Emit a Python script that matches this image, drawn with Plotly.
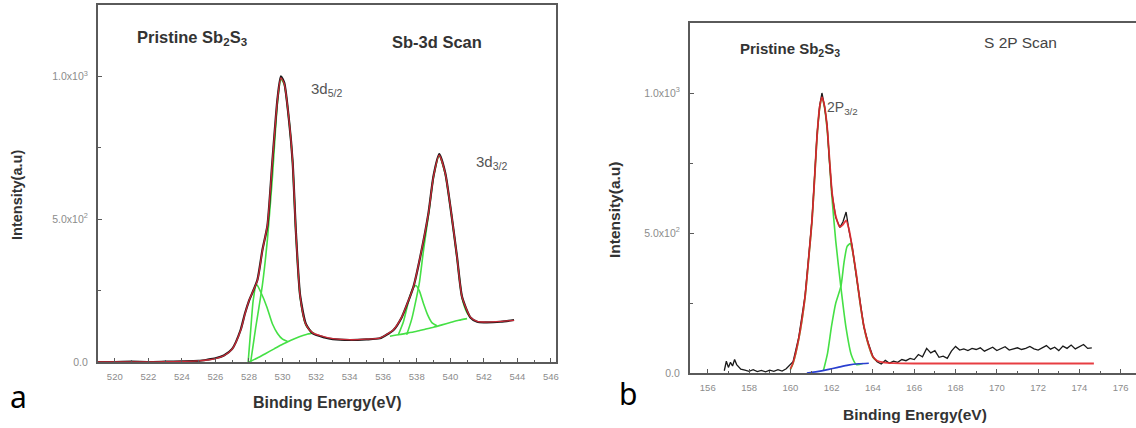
import plotly.graph_objects as go

# ---------------- Panel a : Sb-3d scan ----------------
a_x = [519.0, 520.0, 521.0, 522.0, 523.0, 524.0, 525.0, 525.5, 526.0, 526.5, 527.0, 527.5, 527.76,
       528.0, 528.5, 528.8, 529.1, 529.4, 529.7, 529.9, 530.1, 530.4, 530.6, 530.8, 531.05, 531.4,
       531.8, 532.5, 533.0, 534.0, 535.0, 535.8, 536.3, 536.6, 537.1, 537.5, 537.8, 538.2, 538.7,
       539.0, 539.34, 539.7, 540.06, 540.4, 540.7, 541.2, 541.6, 542.0, 543.0, 543.8]
a_data = [0, 0, 1, 0, 1, 2, 4, 8, 13, 23, 46, 112, 170,
          214, 287, 392, 478, 708, 922, 1000, 978, 838, 702, 452, 232, 132,
          100, 86, 80, 77, 79, 83, 99, 111, 156, 214, 263, 366, 522,
          652, 728, 662, 520, 368, 228, 156, 141, 139, 141, 147]
a_fit = [0, 0, 0, 0, 1, 2, 4, 7, 12, 22, 45, 110, 168,
         215, 285, 390, 480, 706, 920, 995, 975, 840, 700, 450, 230, 130,
         102, 88, 82, 78, 80, 84, 100, 112, 157, 215, 262, 367, 521,
         650, 724, 660, 521, 367, 227, 157, 142, 140, 142, 146]

a_bg1_x = [528.0, 528.5, 529.0, 529.5, 530.0, 530.5, 531.0, 531.5, 531.9]
a_bg1_y = [0, 14, 30, 46, 62, 76, 88, 98, 102]
a_sh1_x = [527.95, 528.1, 528.25, 528.45, 528.7, 529.07, 529.4, 529.7, 530.0, 530.3]
a_sh1_y = [0, 110, 215, 272, 245, 192, 133, 100, 80, 72]
a_pk1_x = [528.1, 528.4, 528.8, 529.1, 529.4, 529.7, 529.9, 530.1, 530.4, 530.6, 530.8, 531.05, 531.4, 531.8]
a_pk1_y = [0, 120, 270, 430, 650, 910, 990, 972, 838, 698, 448, 228, 128, 101]

a_bg2_x = [536.4, 537.0, 537.5, 538.0, 538.5, 539.0, 539.5, 540.0, 540.5, 541.0]
a_bg2_y = [90, 96, 102, 108, 115, 122, 130, 138, 146, 152]
a_sh2_x = [536.9, 537.2, 537.5, 537.75, 537.95, 538.15, 538.4, 538.65, 538.9, 539.2]
a_sh2_y = [95, 140, 210, 255, 268, 250, 205, 165, 138, 127]
a_pk2_x = [537.4, 537.7, 538.0, 538.15, 538.4, 538.7, 539.0, 539.34, 539.7, 540.06, 540.4, 540.7, 541.0, 541.2]
a_pk2_y = [95, 150, 230, 275, 390, 515, 648, 722, 658, 519, 365, 225, 172, 156]

a_xticks = [520, 522, 524, 526, 528, 530, 532, 534, 536, 538, 540, 542, 544, 546]

# ---------------- Panel b : S 2P scan ----------------
b_x = [156.8, 156.9, 157.0, 157.1, 157.2, 157.3, 157.4, 157.5, 157.6, 157.8, 158.0, 158.2, 158.4,
       158.6, 158.8, 159.0, 159.2, 159.4, 159.6, 159.8, 160.0, 160.13, 160.4, 160.71, 160.9, 161.05,
       161.2, 161.29, 161.42, 161.53, 161.65, 161.78, 161.9, 162.02, 162.2, 162.4, 162.55, 162.7,
       162.85, 162.99, 163.2, 163.38, 163.56, 163.76, 164.0, 164.2, 164.4, 164.6, 164.8, 165.0,
       165.2, 165.4, 165.6, 165.8, 166.0, 166.2, 166.4, 166.6, 166.8, 167.0, 167.2, 167.4, 167.6,
       167.8, 168.0, 168.2, 168.4, 168.6, 168.8, 169.0, 169.2, 169.4, 169.6, 169.8, 170.0, 170.2,
       170.4, 170.6, 170.8, 171.0, 171.2, 171.4, 171.6, 171.8, 172.0, 172.2, 172.4, 172.6, 172.8,
       173.0, 173.2, 173.4, 173.6, 173.8, 174.0, 174.2, 174.4, 174.6]
b_data = [8, 42, 20, 38, 25, 48, 30, 22, 14, 10, 6, 12, 5,
          9, 4, 10, 6, 12, 7, 15, 30, 40, 125, 275, 425, 550,
          735, 850, 955, 1000, 955, 885, 750, 640, 555, 520, 540, 575,
          505, 455, 345, 255, 165, 110, 58, 40, 32, 45, 35, 42,
          38, 48, 44, 52, 48, 66, 58, 88, 72, 80, 56, 60, 52,
          78, 95, 82, 86, 80, 88, 84, 90, 78, 86, 92, 80, 88,
          94, 82, 86, 90, 84, 88, 95, 86, 82, 90, 98, 85, 92,
          80, 96, 88, 100, 86, 94, 102, 88, 90]

b_fit_x = [160.0, 160.13, 160.4, 160.71, 160.9, 161.05, 161.2, 161.29, 161.42, 161.53, 161.65, 161.78,
           161.9, 162.02, 162.2, 162.4, 162.55, 162.7, 162.85, 162.99, 163.2, 163.38, 163.56, 163.76,
           164.0, 164.2, 164.5, 165.0, 166.0, 168.0, 170.0, 172.0, 174.0, 174.7]
b_fit_y = [15, 36, 120, 271, 420, 546, 730, 843, 950, 985, 955, 880,
           760, 643, 560, 522, 530, 545, 510, 450, 350, 250, 168, 107,
           58, 44, 38, 35, 34, 34, 34, 34, 34, 34]

b_c1_x = [160.0, 160.13, 160.4, 160.71, 160.9, 161.05, 161.2, 161.29, 161.42, 161.53, 161.65, 161.78,
          161.9, 162.0, 162.2, 162.45, 162.7, 162.95, 163.2, 163.5]
b_c1_y = [12, 34, 118, 268, 418, 543, 727, 840, 946, 982, 950, 872,
          752, 640, 470, 305, 160, 65, 30, 34]
b_c2_x = [161.6, 161.8, 162.0, 162.2, 162.45, 162.6, 162.75, 162.9, 163.0, 163.2, 163.38, 163.56, 163.76, 164.0, 164.2]
b_c2_y = [8, 70, 170, 250, 310, 395, 452, 462, 440, 345, 248, 166, 105, 56, 42]
b_bg_x = [160.8, 161.3, 161.8, 162.3, 162.8, 163.3, 163.8]
b_bg_y = [0, 5, 12, 20, 28, 33, 35]

b_xticks = [156, 158, 160, 162, 164, 166, 168, 170, 172, 174, 176]

y_ticks = [0, 500, 1000]
y_ticktext = ["0.0", "5.0x10<sup>2</sup>", "1.0x10<sup>3</sup>"]

# ---------------- figure ----------------
W, H = 1136, 428
BLACK = "#1a1a1a"
RED = "rgba(232,45,60,0.85)"
GREEN = "#45e045"
BLUE = "#2a3fd0"

fig = go.Figure()

def line(x, y, color, width, xa, ya, shape="spline"):
    fig.add_trace(go.Scatter(x=x, y=y, mode="lines", xaxis=xa, yaxis=ya,
                             line=dict(color=color, width=width, shape=shape, smoothing=0.6),
                             showlegend=False, hoverinfo="skip"))

# panel a
for gx, gy in [(a_bg1_x, a_bg1_y), (a_sh1_x, a_sh1_y), (a_pk1_x, a_pk1_y),
               (a_bg2_x, a_bg2_y), (a_sh2_x, a_sh2_y), (a_pk2_x, a_pk2_y)]:
    line(gx, gy, GREEN, 1.6, "x", "y")
line(a_x, a_data, BLACK, 2.2, "x", "y")
line(a_x, a_fit, RED, 1.3, "x", "y")

# panel b
line(b_c1_x, b_c1_y, GREEN, 1.6, "x2", "y2")
line(b_c2_x, b_c2_y, GREEN, 1.6, "x2", "y2")
line(b_bg_x, b_bg_y, BLUE, 1.6, "x2", "y2")
line(b_x, b_data, BLACK, 1.3, "x2", "y2", shape="linear")
line(b_fit_x, b_fit_y, "rgba(228,40,45,0.9)", 1.8, "x2", "y2")

def px(x):
    return x / W

def py(y):
    return 1 - y / H

AX_COLOR = "#5a5a5a"
XTICK_FONT = dict(family="Liberation Sans, Arial", size=9.5, color="#8c8c8c")
YTICK_FONT = dict(family="Liberation Sans, Arial", size=10.5, color="#8c8c8c")

def xaxis(domain, rng, ticks, anchor):
    return dict(domain=domain, range=rng, tickvals=ticks, ticktext=[str(t) for t in ticks],
                showline=True, linecolor=AX_COLOR, linewidth=2, mirror=True,
                ticks="inside", ticklen=4, tickwidth=1.2, tickcolor=AX_COLOR,
                minor=dict(dtick=1, tick0=0, ticks="inside", ticklen=2.5, tickwidth=1, tickcolor=AX_COLOR),
                showgrid=False, zeroline=False, tickfont=XTICK_FONT, anchor=anchor,
                ticklabelstandoff=5, automargin=False, fixedrange=True)

def yaxis(domain, rng, mirror, anchor):
    return dict(domain=domain, range=rng, tickvals=y_ticks, ticktext=y_ticktext,
                showline=True, linecolor=AX_COLOR, linewidth=2, mirror=mirror,
                ticks="inside", ticklen=4, tickwidth=1.2, tickcolor=AX_COLOR,
                minor=dict(dtick=250, tick0=0, ticks="inside", ticklen=2.5, tickwidth=1, tickcolor=AX_COLOR),
                showgrid=False, zeroline=False, tickfont=YTICK_FONT, anchor=anchor,
                ticklabelstandoff=6, automargin=False, fixedrange=True)

fig.update_layout(
    width=W, height=H, margin=dict(l=0, r=0, t=0, b=0),
    paper_bgcolor="white", plot_bgcolor="white",
    xaxis=xaxis([px(98), px(556)], [519.0, 546.3], a_xticks, "y"),
    yaxis=yaxis([py(362), py(5)], [0, 1250], True, "x"),
    xaxis2=xaxis([px(690), 1.0], [155.14, 176.74], b_xticks, "y2"),
    yaxis2=yaxis([py(373), py(23)], [0, 1250], False, "x2"),
)

FONT = "Liberation Sans, Arial"
anns = [
    dict(text="<b>Pristine Sb<sub>2</sub>S<sub>3</sub></b>", x=192, y=38, size=16.5, color="#333", xanchor="center"),
    dict(text="<b>Sb-3d Scan</b>", x=437, y=42, size=16.5, color="#333", xanchor="center"),
    dict(text="3d<sub>5/2</sub>", x=309, y=90, size=15, color="#555", xanchor="left"),
    dict(text="3d<sub>3/2</sub>", x=474, y=162, size=15, color="#555", xanchor="left"),
    dict(text="<b>Binding Energy(eV)</b>", x=327, y=402, size=16, color="#333", xanchor="center"),
    dict(text="<b>Intensity(a.u)</b>", x=17, y=195, size=14.5, color="#333", xanchor="center", angle=-90),
    dict(text="<b>Pristine Sb<sub>2</sub>S<sub>3</sub></b>", x=790, y=50, size=15, color="#333", xanchor="center"),
    dict(text="S 2P Scan", x=1020, y=43, size=15.5, color="#444", xanchor="center"),
    dict(text="2P<sub>3/2</sub>", x=825, y=108, size=14, color="#555", xanchor="left"),
    dict(text="<b>Binding Energy(eV)</b>", x=915, y=414, size=15.5, color="#333", xanchor="center"),
    dict(text="<b>Intensity(a.u)</b>", x=614, y=210, size=15.5, color="#333", xanchor="center", angle=-90),
]
for a in anns:
    fig.add_annotation(text=a["text"], x=px(a["x"]), y=py(a["y"]), xref="paper", yref="paper",
                       xanchor=a["xanchor"], yanchor="middle", showarrow=False,
                       textangle=a.get("angle", 0),
                       font=dict(family=FONT, size=a["size"], color=a["color"]))

for lab, lx, ly in [("a", 18, 396), ("b", 628, 393)]:
    fig.add_annotation(text=lab, x=px(lx), y=py(ly), xref="paper", yref="paper",
                       xanchor="center", yanchor="middle", showarrow=False,
                       font=dict(family="Noto Sans, Open Sans", size=30, color="black"))

fig.write_html("out.html", include_plotlyjs=True, config={"displayModeBar": False},
               post_script="document.body.style.margin='0';")
